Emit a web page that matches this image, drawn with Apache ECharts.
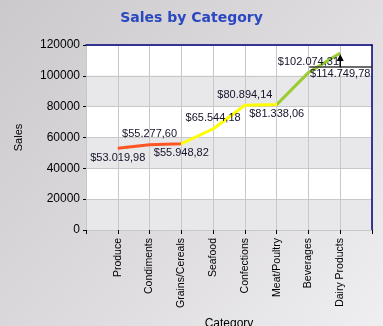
<!DOCTYPE html>
<html>
<head>
<meta charset="utf-8">
<script src="https://cdn.jsdelivr.net/npm/echarts@6/dist/echarts.min.js"></script>
<style>
  html, body { margin: 0; padding: 0; }
  #chart { width: 383px; height: 326px; }
</style>
</head>
<body>
<div id="chart"></div>
<script>
// Sales totals per product category
const categories = ['Produce', 'Condiments', 'Grains/Cereals', 'Seafood', 'Confections', 'Meat/Poultry', 'Beverages', 'Dairy Products'];
const sales = [53019.98, 55277.60, 55948.82, 65544.18, 80894.14, 81338.06, 102074.31, 114749.78];
const yTicks = [0, 20000, 40000, 60000, 80000, 100000, 120000];
// where each data label sits relative to its point
const labelSides = ['bottom', 'top', 'bottom', 'top', 'top', 'bottom', 'top', 'bottom'];

const FONT = 'Liberation Sans';

function money(v) {
  const parts = v.toFixed(2).split('.');
  const int = parts[0].replace(/\B(?=(\d{3})+(?!\d))/g, '.');
  return '$' + int + ',' + parts[1];
}

const points = sales.map((v, i) => {
  const side = labelSides[i];
  const label = { position: side, distance: side === 'top' ? 5 : 4 };
  if (i === 4) label.offset = [-3, 0];
  if (i === 7) label.distance = 15;
  return { value: [i + 1, v], label: label };
});

const chart = echarts.init(document.getElementById('chart'), null, { renderer: 'canvas' });

const option = {
  animation: false,
  backgroundColor: {
    type: 'linear', x: 0, y: 0, x2: 1, y2: 1,
    colorStops: [
      { offset: 0, color: '#cbc9cc' },
      { offset: 0.55, color: '#dedcdf' },
      { offset: 1, color: '#efeef0' }
    ]
  },
  title: {
    text: 'Sales by Category',
    left: 'center',
    top: 6,
    textStyle: { fontFamily: 'DejaVu Sans', fontWeight: 'bold', fontSize: 14, color: '#2a48c0' }
  },
  grid: { left: 86, right: 11, top: 45, bottom: 96, outerBoundsMode: 'none' },
  visualMap: {
    show: false,
    type: 'piecewise',
    dimension: 0,
    seriesIndex: 0,
    pieces: [
      { lt: 3, color: '#ff5522' },
      { gte: 3, lt: 6, color: '#ffff00' },
      { gte: 6, color: '#9acd32' }
    ]
  },
  xAxis: [{
    type: 'value',
    min: 0, max: categories.length + 1, interval: 1,
    name: 'Category',
    nameLocation: 'middle',
    nameGap: 88,
    nameTextStyle: { fontFamily: FONT, fontSize: 12, color: '#000' },
    axisLine: { onZero: false, lineStyle: { color: '#c8c8c8', width: 1 } },
    axisTick: { show: true, length: 4, lineStyle: { color: '#000' } },
    axisLabel: {
      rotate: 90, margin: 8,
      fontFamily: FONT, fontSize: 10.5, color: '#000',
      formatter: v => categories[v - 1] || ''
    },
    splitLine: { show: true, lineStyle: { color: '#c8c8c8', width: 1 } }
  }, {
    type: 'value', position: 'top',
    min: 0, max: categories.length + 1,
    axisLine: { show: true, onZero: false, lineStyle: { color: '#000080', width: 1.5 } },
    axisTick: { show: false }, axisLabel: { show: false }, splitLine: { show: false }
  }],
  yAxis: [{
    type: 'value',
    min: yTicks[0], max: yTicks[yTicks.length - 1], interval: yTicks[1] - yTicks[0],
    name: 'Sales',
    nameLocation: 'middle',
    nameGap: 62,
    nameTextStyle: { fontFamily: FONT, fontSize: 11, color: '#000' },
    axisLine: { show: true, onZero: false, lineStyle: { color: '#c8c8c8', width: 1 } },
    axisTick: { show: true, length: 3, lineStyle: { color: '#000' } },
    axisLabel: { margin: 6, fontFamily: FONT, fontSize: 12, color: '#000', formatter: v => String(v) },
    splitLine: { show: true, lineStyle: { color: '#c8c8c8', width: 1 } },
    splitArea: { show: true, areaStyle: { color: ['#e8e7ea', '#ffffff'] } }
  }, {
    type: 'value', position: 'right',
    min: yTicks[0], max: yTicks[yTicks.length - 1],
    axisLine: { show: true, onZero: false, lineStyle: { color: '#000080', width: 1.5 } },
    axisTick: { show: false }, axisLabel: { show: false }, splitLine: { show: false }
  }],
  series: [{
    type: 'line',
    xAxisIndex: 0, yAxisIndex: 0,
    data: points,
    symbol: 'circle',
    symbolSize: 0.1,
    showSymbol: true,
    lineStyle: { width: 3 },
    label: {
      show: true,
      fontFamily: FONT, fontSize: 11, color: '#14142a',
      formatter: p => money(p.value[1])
    },
    labelLayout: { hideOverlap: false },
    z: 3
  }]
};

chart.setOption(option);

// Callout under the last label: a rule above the text and an arrow up to the point
const last = sales.length - 1;
const tip = chart.convertToPixel({ xAxisIndex: 0, yAxisIndex: 0 }, [last + 1, sales[last]]);
const ruleY = tip[1] + 14;
chart.setOption({
  graphic: [
    {
      type: 'line', z: 10,
      shape: { x1: tip[0] - 31, y1: ruleY, x2: tip[0] + 32, y2: ruleY },
      style: { stroke: '#3a3a3a', lineWidth: 1.5 }
    },
    {
      type: 'line', z: 10,
      shape: { x1: tip[0], y1: ruleY, x2: tip[0], y2: tip[1] + 5 },
      style: { stroke: '#000', lineWidth: 1.5 }
    },
    {
      type: 'polygon', z: 10,
      shape: { points: [[tip[0], tip[1] + 1], [tip[0] - 3.5, tip[1] + 8], [tip[0] + 3.5, tip[1] + 8]] },
      style: { fill: '#000' }
    }
  ]
});
</script>
</body>
</html>
